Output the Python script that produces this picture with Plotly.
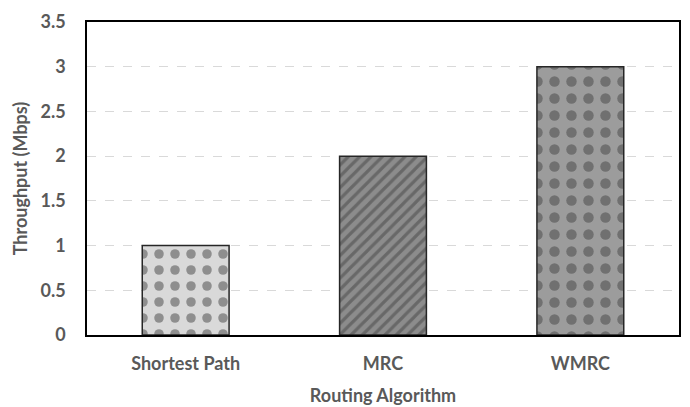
import plotly.graph_objects as go

categories = ["Shortest Path", "MRC", "WMRC"]
throughput = [1, 2, 3]
y_ticks = [0, 0.5, 1, 1.5, 2, 2.5, 3, 3.5]
y_tick_labels = ["0", "0.5", "1", "1.5", "2", "2.5", "3", "3.5"]

pattern_shapes = [".", "/", "."]
pattern_bg = ["#d9d9d9", "#8c8c8c", "#9c9c9c"]
pattern_fg = ["#b8b8b8", "#3c3c3c", "#6a6a6a"]
pattern_size = [16, 8, 17]
pattern_solidity = [0.28, 0.4, 0.3]

font_family = "Lato, Open Sans, sans-serif"
txt = "#595959"

fig = go.Figure(go.Bar(
    x=categories, y=throughput,
    width=0.44,
    marker=dict(
        color=pattern_bg,
        line=dict(color="#262626", width=1.5),
        pattern=dict(shape=pattern_shapes, bgcolor=pattern_bg, fgcolor=pattern_fg,
                     size=pattern_size, solidity=pattern_solidity, fillmode="overlay"),
    ),
))

fig.update_layout(
    width=682, height=399,
    margin=dict(l=79, r=11, t=14, b=72),
    paper_bgcolor="white", plot_bgcolor="white",
    showlegend=False,
    font=dict(family=font_family, size=18, color=txt),
    xaxis=dict(
        automargin=False,
        showline=True, linecolor="black", linewidth=1.5, mirror=True,
        ticks="outside", ticklen=12, tickcolor="rgba(0,0,0,0)", showgrid=False,
        tickfont=dict(size=18, color=txt, family=font_family, weight="bold"),
        title=dict(text="Routing Algorithm", standoff=16,
                   font=dict(size=18, color=txt, family=font_family, weight="bold")),
    ),
    yaxis=dict(
        automargin=False,
        range=[0, 3.5], tickvals=y_ticks, ticktext=y_tick_labels,
        showline=True, linecolor="black", linewidth=1.5, mirror=True,
        ticks="outside", ticklen=16, tickcolor="rgba(0,0,0,0)",
        showgrid=True, gridcolor="#d9d9d9", griddash="dash", gridwidth=1,
        zeroline=False,
        tickfont=dict(size=18, color=txt, family=font_family, weight="bold"),
        title=dict(text="Throughput (Mbps)", standoff=8,
                   font=dict(size=18, color=txt, family=font_family, weight="bold")),
    ),
)

fig.write_html("out.html")
